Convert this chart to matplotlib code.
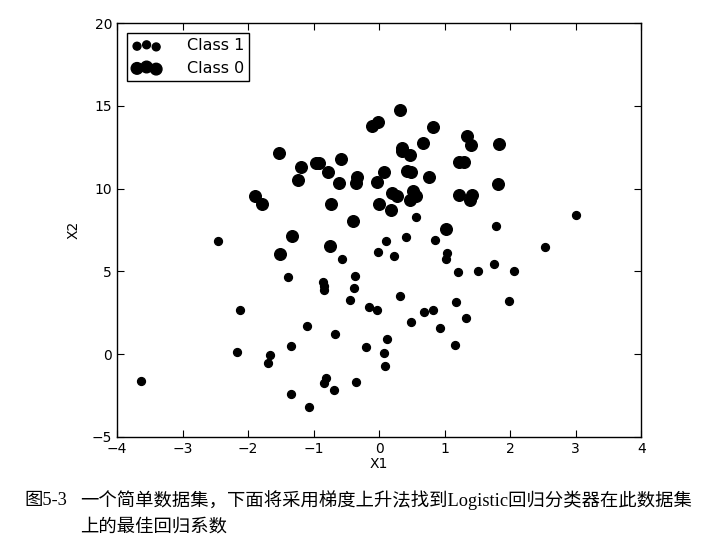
import matplotlib
matplotlib.use('Agg')
import matplotlib.pyplot as plt

# data points: (x1, x2, label)
x1 = [-0.017612, -1.395634, -0.752157, -1.322371, 0.423363, 0.406704, 0.667394, -2.460150,
      0.569411, -0.026632, 0.850433, 1.347183, 1.176813, -1.781871, -0.566606, 0.931635,
      -0.024205, -0.036453, -0.196949, 1.014459, 1.985298, -1.693453, -0.576525, -0.346811,
      -2.124484, 1.217916, -0.733928, -3.642001, 0.315985, 1.416614, -0.386323, 0.556921,
      1.224863, -1.347803, 1.196604, 0.275221, 0.470575, -1.889567, -1.527893, -1.185247,
      -0.445678, 1.042222, -0.618787, 1.152083, 0.828534, -1.237728, -0.683565, 0.229456,
      -0.959885, 0.492911, 0.184992, -0.355715, -0.397822, 0.824839, 1.507278, 0.099671,
      -0.344008, 1.785928, -0.918801, -0.364009, -0.841722, 0.490426, -0.007194, 0.356107,
      0.342578, -0.810823, 2.530777, 1.296683, 0.475487, -0.783277, 0.074798, -1.337472,
      -0.102781, -0.147324, 0.518389, 1.015399, -1.658086, 1.319944, 2.056216, -0.851633,
      -1.510047, -1.076637, 1.821096, 3.010150, -1.099458, -0.834872, -0.846637, 1.400102,
      1.752842, 0.078557, 0.089392, 1.825662, 0.197445, 0.126117, -0.679797, 0.677983,
      0.761349, -2.168791, 1.388610, 0.317029]
x2 = [14.053064, 4.662541, 6.538620, 7.152853, 11.054677, 7.067335, 12.741452, 6.866805,
      9.548755, 10.427743, 6.920334, 13.175500, 3.167020, 9.097953, 5.749003, 1.589505,
      6.151823, 2.690988, 0.444165, 5.754399, 3.230619, -0.557540, 11.778922, -1.678730,
      2.672471, 9.597015, 9.098687, -1.618087, 3.523953, 9.619232, 3.989286, 8.294984,
      11.587360, -2.406051, 4.951851, 9.543647, 9.332488, 9.542662, 12.150579, 11.309318,
      3.297303, 6.105155, 10.320986, 0.548467, 2.676045, 10.549033, -2.166125, 5.921938,
      11.555336, 10.993324, 8.721488, 10.325976, 8.058397, 13.730343, 5.027866, 6.835839,
      10.717485, 7.718645, 11.560217, 4.747300, 4.119083, 1.960539, 9.075792, 12.447863,
      12.281162, -1.466018, 6.476801, 11.607559, 12.040035, 11.009725, 11.023650, 0.468339,
      13.763651, 2.874846, 9.887035, 7.571882, -0.027255, 2.171228, 5.019981, 4.375691,
      6.061992, -3.181888, 10.283990, 8.401766, 1.688274, -1.733869, 3.849075, 12.628781,
      5.468166, 0.059736, -0.715300, 12.693808, 9.744638, 0.922311, 1.220530, 2.556666,
      10.693862, 0.143632, 9.341997, 14.739025]
labels = [0, 1, 0, 0, 0, 1, 0, 1, 0, 0, 1, 0, 1, 0, 1, 1, 1, 1, 1, 1,
          1, 1, 0, 1, 1, 0, 0, 1, 1, 0, 1, 1, 0, 1, 1, 0, 0, 0, 0, 0,
          1, 1, 0, 1, 1, 0, 1, 1, 0, 0, 0, 0, 0, 0, 1, 1, 0, 1, 0, 1,
          1, 1, 0, 0, 0, 1, 1, 0, 0, 0, 0, 1, 0, 1, 0, 0, 1, 1, 1, 1,
          0, 1, 0, 1, 1, 1, 1, 0, 1, 1, 1, 0, 0, 1, 1, 1, 0, 1, 0, 0]

caption = ['图5-3', '一个简单数据集，下面将采用梯度上升法找到Logistic回归分类器在此数据集', '上的最佳回归系数']

# split by class
xa = [x for x, l in zip(x1, labels) if l == 1]
ya = [y for y, l in zip(x2, labels) if l == 1]
xb = [x for x, l in zip(x1, labels) if l == 0]
yb = [y for y, l in zip(x2, labels) if l == 0]

fig = plt.figure(figsize=(7.27, 5.53), dpi=100)
ax = fig.add_axes([0.161, 0.210, 0.721, 0.748])

ax.scatter(xa, ya, s=32, c='black', edgecolors='black', label='Class 1')
ax.scatter(xb, yb, s=70, c='black', edgecolors='black', label='Class 0')

ax.set_xlim(-4, 4)
ax.set_ylim(-5, 20)
ax.set_xticks(range(-4, 5))
ax.set_yticks([-5, 0, 5, 10, 15, 20])
ax.tick_params(direction='in', top=True, right=True, length=5, labelsize=10)
ax.set_xlabel('X1', fontsize=10, labelpad=1)
ax.set_ylabel('X2', fontsize=10, labelpad=8)
for sp in ax.spines.values():
    sp.set_linewidth(1.0)

leg = ax.legend(loc='upper left', scatterpoints=3, scatteryoffsets=[0.375, 0.5, 0.3125],
                fancybox=False, framealpha=1, edgecolor='black', fontsize=11.5,
                borderaxespad=0.6, handletextpad=1.6, handlelength=1.8,
                borderpad=0.35, labelspacing=0.45)
leg.get_frame().set_linewidth(1.0)

# caption below the plot
cap_font = ['Liberation Serif', 'Noto Sans CJK SC', 'DejaVu Sans']
fig.text(24 / 727, 1 - 500 / 553, caption[0], fontsize=13.2, family=cap_font, va='center')
fig.text(80 / 727, 1 - 500 / 553, caption[1], fontsize=13.2, family=cap_font, va='center')
fig.text(80 / 727, 1 - 527 / 553, caption[2], fontsize=13.2, family=cap_font, va='center')

plt.savefig('out.png', dpi=100, facecolor='white')
